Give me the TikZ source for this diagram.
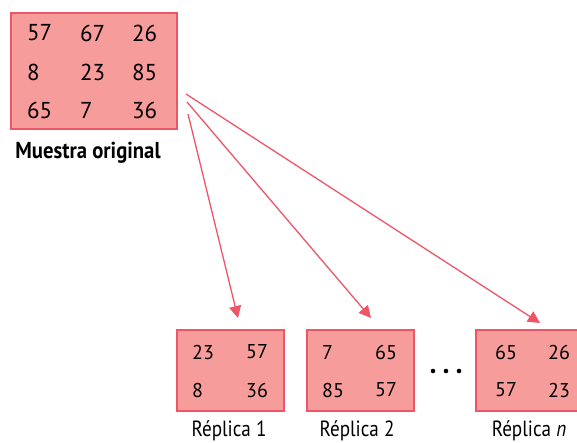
\documentclass[tikz,border=0pt]{standalone}
\usepackage{fontspec}
\setmainfont{PT Sans}
\usetikzlibrary{arrows.meta}
\definecolor{boxfill}{HTML}{F69C9B}
\definecolor{boxline}{HTML}{EE5668}
\tikzset{
  sample/.style={draw=boxline,fill=boxfill,line width=2pt,anchor=north west,inner sep=0pt},
  bignum/.style={anchor=west,inner sep=0pt,font=\fontsize{23}{27}\selectfont},
  smallnum/.style={anchor=west,inner sep=0pt,font=\fontsize{20}{24}\selectfont},
  lbl/.style={anchor=base,inner sep=0pt,font=\fontsize{22}{26}\selectfont},
  boldlbl/.style={inner sep=0pt,font=\fontsize{23}{27}\selectfont\bfseries},
  conn/.style={draw=boxline,line width=1.3pt,-{Triangle[length=12pt,width=12pt]}},
}
\newcommand{\cond}[1]{\scalebox{0.87}[1]{#1}}
\newcommand{\condb}[1]{\scalebox{0.9}[1]{#1}}
\begin{document}
\begin{tikzpicture}[x=1pt,y=-1pt]
\useasboundingbox (0,0) rectangle (577,442);
\clip (0,0) rectangle (577,442);
% original sample
\node[sample,minimum width=166pt,minimum height=116pt] (orig) at (10,12) {};
\node[bignum] (o11) at (27,33) {57};
\node[bignum] (o12) at (80,33) {67};
\node[bignum] (o13) at (132,33) {26};
\node[bignum] (o21) at (27,72) {8};
\node[bignum] (o22) at (80,72) {23};
\node[bignum] (o23) at (132,72) {85};
\node[bignum] (o31) at (27,110) {65};
\node[bignum] (o32) at (80,110) {7};
\node[bignum] (o33) at (132,110) {36};
\node[boldlbl] (origlbl) at (88,153) {\condb{Muestra original}};
% replicas
\node[sample,minimum width=107pt,minimum height=81pt] (r1) at (176,329) {};
\node[smallnum] (a11) at (192,352) {23};
\node[smallnum] (a12) at (246,352) {57};
\node[smallnum] (a21) at (192,390) {8};
\node[smallnum] (a22) at (246,390) {36};
\node[lbl] (r1lbl) at (229,436.5) {\cond{Réplica 1}};
\node[sample,minimum width=107pt,minimum height=81pt] (r2) at (306,329) {};
\node[smallnum] (b11) at (322,352) {7};
\node[smallnum] (b12) at (375,352) {65};
\node[smallnum] (b21) at (322,390) {85};
\node[smallnum] (b22) at (375,390) {57};
\node[lbl] (r2lbl) at (357,436.5) {\cond{Réplica 2}};
\node[sample,minimum width=107pt,minimum height=81pt] (rn) at (475,329) {};
\node[smallnum] (c11) at (495,352) {65};
\node[smallnum] (c12) at (548,352) {26};
\node[smallnum] (c21) at (495,390) {57};
\node[smallnum] (c22) at (548,390) {23};
\node[lbl] (rnlbl) at (529,436.5) {\cond{Réplica \textit{n}}};
% dots
\fill (433,371) circle (2.3pt);
\fill (446,371) circle (2.3pt);
\fill (459,371) circle (2.3pt);
% connectors
\coordinate (s1) at (186,94);
\coordinate (s2) at (187,102);
\coordinate (s3) at (188,114);
\coordinate (tn) at (540,323);
\coordinate (t2) at (371,318);
\coordinate (t1) at (238,318);
\draw[conn] (s1) -- (tn);
\draw[conn] (s2) -- (t2);
\draw[conn] (s3) -- (t1);
\end{tikzpicture}
\end{document}
